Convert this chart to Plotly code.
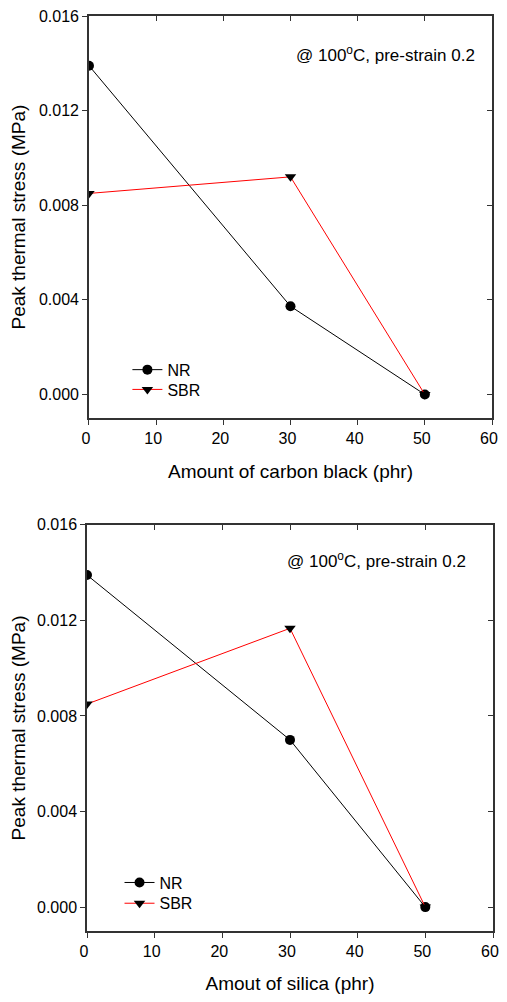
import plotly.graph_objects as go

# ---- data ----
x_cb = [0, 30, 50]
nr_cb = [0.0139, 0.00373, 0.0]
sbr_cb = [0.0085, 0.0092, 0.0]

x_si = [0, 30, 50]
nr_si = [0.0139, 0.0070, 0.0]
sbr_si = [0.0085, 0.01167, 0.0]

x_ticks = [0, 10, 20, 30, 40, 50, 60]
y_ticks = [0.000, 0.004, 0.008, 0.012, 0.016]
y_ticklabels = ["0.000", "0.004", "0.008", "0.012", "0.016"]

xlabel_top = "Amount of carbon black (phr)"
xlabel_bot = "Amout of silica (phr)"
ylabel = "Peak thermal stress (MPa)"
note = "@ 100<sup>o</sup>C, pre-strain 0.2"

# the page body keeps its default 8px margin: the figure sits at page (8, 8)
# and is sized so the page is exactly the 507x1002 window
OFF = 8
W, H = 507 - 2 * OFF, 1002 - 2 * OFF
L = 87 - OFF
R = W - (499 - OFF)
T = 13 - OFF
B = H - (939 - OFF)
PW = W - L - R
PH = H - T - B


def px_x(p):
    return (p - OFF - L) / PW


def px_y(p):
    return (H - B - (p - OFF)) / PH


FONT = "Liberation Sans, Arial, sans-serif"
AX = "#333333"

fig = go.Figure()

# top panel
fig.add_trace(go.Scatter(x=x_cb, y=nr_cb, name="NR", mode="lines+markers",
                         line=dict(color="black", width=1),
                         marker=dict(symbol="circle", size=10, color="black"),
                         xaxis="x", yaxis="y", legend="legend"))
fig.add_trace(go.Scatter(x=x_cb, y=sbr_cb, name="SBR", mode="lines+markers",
                         line=dict(color="red", width=1),
                         marker=dict(symbol="triangle-down", size=10, color="black"),
                         xaxis="x", yaxis="y", legend="legend2"))
# bottom panel
fig.add_trace(go.Scatter(x=x_si, y=nr_si, name="NR", mode="lines+markers",
                         line=dict(color="black", width=1),
                         marker=dict(symbol="circle", size=10, color="black"),
                         xaxis="x2", yaxis="y2", legend="legend3"))
fig.add_trace(go.Scatter(x=x_si, y=sbr_si, name="SBR", mode="lines+markers",
                         line=dict(color="red", width=1),
                         marker=dict(symbol="triangle-down", size=10, color="black"),
                         xaxis="x2", yaxis="y2", legend="legend4"))

xr = [0, 60]
yr = [-0.001, 0.016]

top_dom_y = [px_y(420), px_y(13)]
bot_dom_y = [px_y(939), px_y(528)]
top_dom_x = [px_x(89), px_x(498)]
bot_dom_x = [px_x(87), px_x(499)]

TICKF = dict(family=FONT, size=16, color="black")
TITLEF = dict(family=FONT, size=19, color="black")

common_x = dict(range=xr, tickvals=x_ticks, ticks="outside", ticklen=5, tickwidth=1,
                tickcolor=AX, showline=True, linecolor=AX, linewidth=1.5,
                mirror=True, showgrid=False, zeroline=False, tickfont=TICKF,
                ticklabeloverflow="allow", ticklabelshift=-3)
common_y = dict(range=yr, tickvals=y_ticks, ticktext=y_ticklabels, ticks="outside",
                ticklen=5, tickwidth=1, tickcolor=AX, showline=True, linecolor=AX,
                linewidth=1.5, mirror=True, showgrid=False, zeroline=False,
                tickfont=TICKF, ticklabeloverflow="allow")
mirror_x = dict(range=xr, tickvals=x_ticks, ticks="inside", ticklen=5, tickwidth=1,
                tickcolor=AX, showticklabels=False, showgrid=False, zeroline=False,
                showline=False, side="top")
mirror_y = dict(range=yr, tickvals=y_ticks, ticks="inside", ticklen=5, tickwidth=1,
                tickcolor=AX, showticklabels=False, showgrid=False, zeroline=False,
                showline=False, side="right")


def leg(xp, yp):
    return dict(x=px_x(xp), y=px_y(yp), xanchor="left", yanchor="middle",
                bgcolor="rgba(0,0,0,0)", font=dict(family=FONT, size=16, color="black"),
                borderwidth=0, tracegroupgap=0)


fig.update_layout(
    width=W, height=H,
    margin=dict(l=L, r=R, t=T, b=B),
    plot_bgcolor="white", paper_bgcolor="white",
    font=dict(family=FONT, color="black"),
    xaxis=dict(common_x, domain=top_dom_x, anchor="y",
               title=dict(text=xlabel_top, font=TITLEF, standoff=19)),
    yaxis=dict(common_y, domain=top_dom_y, anchor="x",
               title=dict(text=ylabel, font=TITLEF, standoff=16)),
    xaxis2=dict(common_x, domain=bot_dom_x, anchor="y2",
                title=dict(text=xlabel_bot, font=TITLEF, standoff=21)),
    yaxis2=dict(common_y, domain=bot_dom_y, anchor="x2",
                title=dict(text=ylabel, font=TITLEF, standoff=16)),
    xaxis3=dict(mirror_x, overlaying="x", anchor="y"),
    yaxis3=dict(mirror_y, overlaying="y", anchor="x"),
    xaxis4=dict(mirror_x, overlaying="x2", anchor="y2"),
    yaxis4=dict(mirror_y, overlaying="y2", anchor="x2"),
    legend=leg(128, 371),
    legend2=leg(128, 391),
    legend3=leg(120, 890),
    legend4=leg(120, 911),
    showlegend=True,
)

# dummy traces to activate mirror axes
fig.add_trace(go.Scatter(x=[None], y=[None], xaxis="x3", yaxis="y3", showlegend=False, hoverinfo="skip"))
fig.add_trace(go.Scatter(x=[None], y=[None], xaxis="x4", yaxis="y4", showlegend=False, hoverinfo="skip"))

fig.add_annotation(text=note, xref="paper", yref="paper", x=px_x(483), y=px_y(51),
                   xanchor="right", yanchor="middle", showarrow=False,
                   font=dict(family=FONT, size=17, color="black"))
fig.add_annotation(text=note, xref="paper", yref="paper", x=px_x(474), y=px_y(564),
                   xanchor="right", yanchor="middle", showarrow=False,
                   font=dict(family=FONT, size=17, color="black"))

# let tick labels that sit at the figure's edge (e.g. "60") draw past the svg box
fig.write_html("out.html", config={"displayModeBar": False},
               post_script="document.querySelectorAll('.main-svg').forEach(function(s){s.style.overflow='visible';});")
